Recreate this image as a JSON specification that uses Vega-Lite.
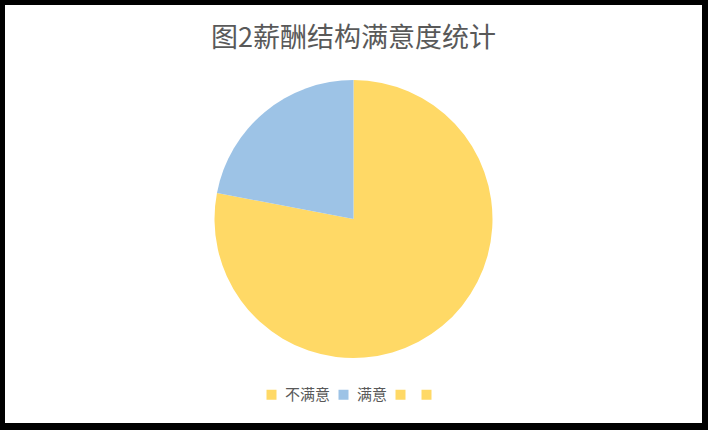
{
  "$schema": "https://vega.github.io/schema/vega-lite/v6.json",
  "autosize": "none",
  "width": 697,
  "height": 418,
  "padding": {"left": 5, "top": 5, "right": 6, "bottom": 7},
  "background": "black",
  "view": {"fill": "white", "stroke": "white", "strokeWidth": 0},
  "config": {
    "font": "Noto Sans CJK SC"
  },
  "title": {
    "text": "图2薪酬结构满意度统计",
    "frame": "group",
    "anchor": "middle",
    "orient": "top",
    "offset": -48,
    "fontSize": 27,
    "fontWeight": "normal",
    "color": "#595959",
    "font": "Noto Sans CJK SC"
  },
  "data": {
    "values": [
      {"category": "不满意", "value": 78, "idx": 1},
      {"category": "满意", "value": 22, "idx": 2},
      {"category": "", "value": 0, "idx": 3},
      {"category": " ", "value": 0, "idx": 4}
    ]
  },
  "mark": {"type": "arc", "outerRadius": 139, "yOffset": 5, "stroke": null},
  "encoding": {
    "theta": {"field": "value", "type": "quantitative", "stack": true},
    "order": {"field": "idx", "type": "quantitative"},
    "color": {
      "field": "category",
      "type": "nominal",
      "scale": {
        "domain": ["不满意", "满意", "", " "],
        "range": ["#FFD966", "#9DC3E6", "#FFD966", "#FFD966"]
      },
      "legend": {
        "title": null,
        "orient": "none",
        "direction": "horizontal",
        "legendX": 259,
        "legendY": 382,
        "symbolType": "square",
        "symbolSize": 100,
        "symbolStrokeWidth": 0,
        "labelFontSize": 15,
        "labelColor": "#595959",
        "labelFont": "Noto Sans CJK SC",
        "labelExpr": "datum.value == '不满意' || datum.value == '满意' ? datum.label : ''",
        "labelOffset": 6,
        "columnPadding": 5
      }
    }
  }
}
